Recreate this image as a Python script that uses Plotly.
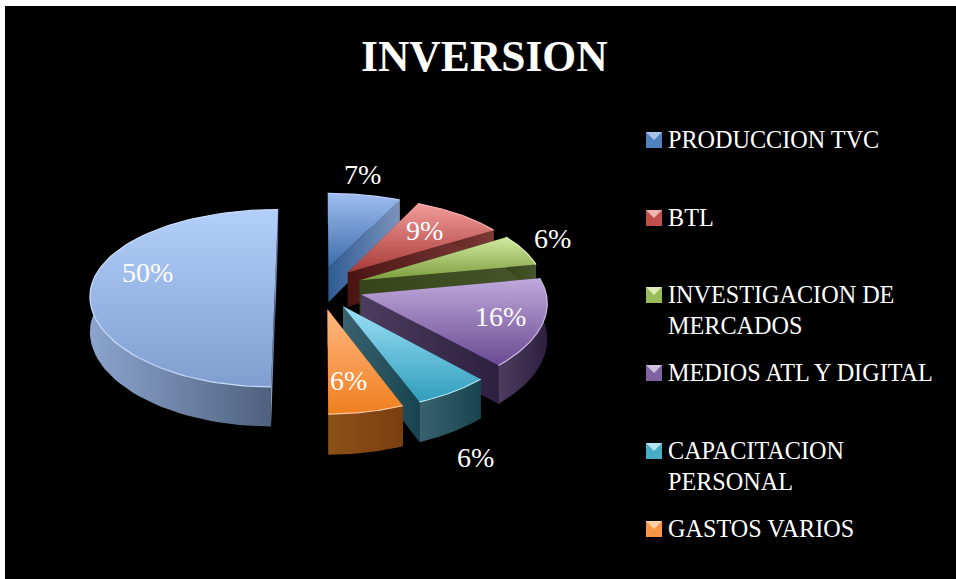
import numpy as np
import plotly.graph_objects as go

# ---- data ----
VALUES = [7, 9, 6, 16, 6, 6, 50]
CATEGORIES = ["PRODUCCION TVC", "BTL", "INVESTIGACION DE<br>MERCADOS",
              "MEDIOS ATL Y DIGITAL", "CAPACITACION<br>PERSONAL", "GASTOS VARIOS"]
TITLE = "INVERSION"

# ---- style / layout ----
W, H = 956, 579
FONT = "Liberation Serif"
CX, CY, RX, RY, KX, KY, DEPTH, EXPL = 319, 288, 184, 87.5, 0.08, 0.115, 35, 0.24
TOP = [("#9FBDF0", "#3B6CA9"), ("#F29C9B", "#A63A37"), ("#D2EAA3", "#7C9C3B"),
       ("#BFA9DB", "#6A4A92"), ("#9DE0F6", "#2F9DBC"), ("#FFB884", "#F07F1E"),
       ("#B3CFFB", "#7F9ECF")]
WALL = [("#2F5C94", "#7C93BC"), ("#4A1413", "#7F3C39"), ("#364519", "#46552A"),
        ("#4C3D60", "#2D1F3F"), ("#3A626E", "#174450"), ("#8C5019", "#7A3F10"),
        ("#8CA5CE", "#4C5E7B")]
RIM = ["#B8CFF5", "#F5B0AE", "#DDF0B8", "#CDBBE5", "#B5E8F9", "#FFC9A0", "#C8DDFD"]
LABEL_POS = [(362, 174), (424, 230), (552, 238), (500, 316), (475, 457), (348, 380), (147, 272)]
LEG_X, LEG_Y = 666, [140, 218, 295, 373, 451, 529]
LEG_COL = [("#4F81BD", "#A9C4EC"), ("#C0504D", "#F0B4B2"), ("#9BBB59", "#DCEBB8"),
           ("#8064A2", "#CFC0E2"), ("#4BACC6", "#B4E4F2"), ("#F79646", "#FFD0A8")]
DRAW_ORDER = [0, 1, 2, 6, 3, 4, 5]


def project(u, v, h=0.0):
    v = np.asarray(v)
    sx = 1.0 / (1.0 + KX * v)
    sy = 1.0 / (1.0 + KY * v)
    return CX + RX * np.asarray(u) * sx, CY - RY * v * sy + h * DEPTH * sy


shares = np.array(VALUES, float) / sum(VALUES) * 2 * np.pi
ends = np.cumsum(shares)
starts = ends - shares

fig = go.Figure()


def poly(x, y, cols, kind):
    fig.add_trace(go.Scatter(
        x=np.r_[x, x[0]], y=np.r_[y, y[0]], mode="lines", fill="toself",
        line=dict(width=0), hoverinfo="skip", showlegend=False,
        fillgradient=dict(type=kind, colorscale=[[0, cols[0]], [1, cols[1]]])))


for i in DRAW_ORDER:
    a, b = starts[i], ends[i]
    mid = (a + b) / 2
    ox, oy = EXPL * np.sin(mid), EXPL * np.cos(mid)
    t = np.linspace(a, b, 80)
    u, v = ox + np.sin(t), oy + np.cos(t)
    # cut faces
    for th in (a, b):
        ue = np.array([ox, ox + np.sin(th)])
        ve = np.array([oy, oy + np.cos(th)])
        x0, y0 = project(ue, ve, 0)
        x1, y1 = project(ue, ve, 1)
        poly(np.r_[x0, x1[::-1]], np.r_[y0, y1[::-1]], WALL[i], "horizontal")
    # outer wall
    x0, y0 = project(u, v, 0)
    x1, y1 = project(u, v, 1)
    poly(np.r_[x0, x1[::-1]], np.r_[y0, y1[::-1]], WALL[i], "horizontal")
    # top face (colorscale runs from the low end of the reversed y axis upward on screen)
    ax, ay = project(ox, oy, 0)
    poly(np.r_[ax, x0], np.r_[ay, y0], TOP[i][::-1], "vertical")
    # rim light on the outer edge
    fig.add_trace(go.Scatter(x=x0, y=y0, mode="lines", hoverinfo="skip", showlegend=False,
                             line=dict(color=RIM[i], width=1.2)))

ann = [dict(x=484, y=56, text=f"<b>{TITLE}</b>", font=dict(size=43.5, color="white", family=FONT),
            showarrow=False, xanchor="center", yanchor="middle")]
for val, (x, y) in zip(VALUES, LABEL_POS):
    ann.append(dict(x=x, y=y, text=f"{val}%", font=dict(size=28, color="white", family=FONT),
                    showarrow=False, xanchor="center", yanchor="middle"))
shapes = [dict(type="rect", xref="x", yref="y", x0=5, y0=6, x1=W + 2, y1=H + 2,
               fillcolor="black", line=dict(width=0), layer="below")]
for cat, y, (dark, light) in zip(CATEGORIES, LEG_Y, LEG_COL):
    ann.append(dict(x=LEG_X, y=y - 16, text=cat, align="left",
                    font=dict(size=24.2, color="white", family=FONT), showarrow=False,
                    xanchor="left", yanchor="top"))
    shapes.append(dict(type="rect", xref="x", yref="y", x0=646, x1=662, y0=y - 8, y1=y + 8,
                       fillcolor=dark, line=dict(width=0)))
    shapes.append(dict(type="path", xref="x", yref="y",
                       path=f"M646,{y-8} L662,{y-8} L654,{y} Z", fillcolor=light, line=dict(width=0)))

fig.update_layout(
    width=W, height=H, autosize=False, margin=dict(l=0, r=0, t=0, b=0, pad=0),
    paper_bgcolor="white", plot_bgcolor="white", showlegend=False,
    xaxis=dict(range=[0, W], visible=False, fixedrange=True),
    yaxis=dict(range=[H, 0], visible=False, fixedrange=True),
    annotations=ann, shapes=shapes)
fig.write_html("out.html", config=dict(displayModeBar=False),
               post_script="document.body.style.margin='0';")
